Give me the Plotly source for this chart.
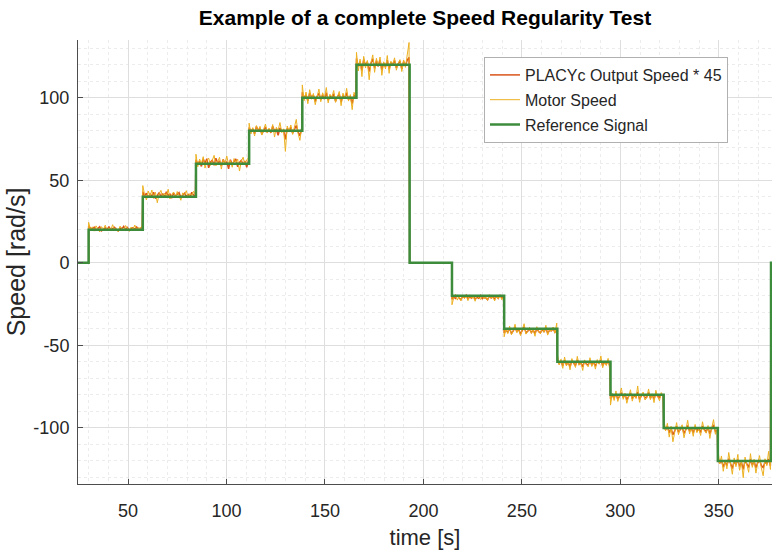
import numpy as np
import plotly.graph_objects as go

# ---------------- data ----------------
# reference signal: segment start times and levels (last edge = end of data)
ref_edges = [24.5, 30.0, 57.5, 84.5, 111.5, 138.5, 166.0, 193.0, 214.5, 241.0,
             268.0, 295.0, 322.0, 349.5, 376.5, 378.0]
ref_levels = [0, 20, 40, 60, 80, 100, 120, 0, -20, -40, -60, -80, -100, -120, 0]

x_tickvals = [50, 100, 150, 200, 250, 300, 350]
y_tickvals = [-100, -50, 0, 50, 100]
y_ticktext = ["-100", "-50", "0", "50", "100"]

# Motor speed samples for each non-zero step
motor_p20 = [24.5, 20.1, 21.8, 19.2, 22.4, 20.6, 18.7, 21.9, 20.3, 22.8, 19.5, 21.2, 20.0, 23.1, 19.8,
             20.9, 18.9, 22.2, 21.0, 19.6, 22.6, 20.4, 19.1, 21.7, 20.2, 22.9, 19.7, 21.4, 20.8, 22.5]
motor_p40 = [46.8, 41.2, 38.1, 43.5, 40.2, 44.1, 39.0, 42.7, 36.4, 41.8, 43.9, 39.6, 42.2, 40.5, 44.6,
             38.7, 41.5, 42.9, 39.3, 43.2, 40.8, 37.9, 42.4, 41.1, 43.7, 39.8, 42.0, 40.6, 43.4, 41.3]
motor_p60 = [65.8, 58.2, 62.9, 60.1, 64.3, 57.4, 61.8, 63.5, 59.0, 62.2, 65.1, 58.7, 61.3, 63.9, 56.8,
             62.6, 60.4, 64.7, 59.5, 61.9, 57.9, 63.2, 60.7, 62.8, 55.6, 61.5, 64.0, 59.3, 62.4, 63.6]
motor_p80 = [84.6, 78.1, 81.9, 76.8, 83.2, 79.5, 82.7, 77.4, 80.8, 84.1, 78.6, 81.5, 79.0, 83.8, 76.2,
             82.1, 80.3, 85.0, 78.9, 81.2, 67.5, 82.9, 79.7, 83.5, 77.8, 81.6, 86.9, 78.4, 74.2, 82.4]
motor_p100 = [107.8, 98.2, 103.5, 96.4, 104.9, 99.1, 102.6, 95.8, 101.7, 105.3, 97.6, 103.0, 99.8, 106.2, 96.9,
              102.1, 100.4, 104.4, 97.2, 101.3, 103.8, 95.2, 102.8, 99.4, 105.7, 98.0, 101.9, 92.8, 103.3, 100.7]
motor_p120 = [127.5, 116.2, 123.4, 112.8, 125.1, 118.0, 122.6, 110.9, 121.3, 126.0, 115.4, 123.9, 119.2, 124.7, 113.6,
              121.8, 117.5, 125.6, 114.8, 122.1, 119.9, 124.2, 116.7, 120.8, 123.1, 115.9, 122.9, 118.4, 125.3, 133.5]
motor_n20 = [-25.4, -21.2, -19.1, -22.6, -20.4, -23.0, -19.8, -21.7, -20.2, -22.9, -19.4, -21.5, -20.7, -23.3, -19.9,
             -21.0, -22.2, -19.6, -21.9, -20.5, -22.7, -19.3, -21.3, -20.9, -23.1, -20.0, -21.8, -19.7, -22.4, -20.6]
motor_n40 = [-44.8, -40.2, -42.9, -38.4, -43.6, -41.1, -37.2, -42.4, -39.8, -44.1, -40.9, -36.9, -43.2, -41.6, -39.1,
             -42.7, -40.4, -44.5, -38.7, -41.9, -43.0, -39.5, -42.1, -37.8, -43.8, -40.6, -41.4, -38.9, -42.6, -36.5]
motor_n60 = [-55.2, -61.8, -58.4, -63.9, -57.1, -62.5, -59.6, -64.8, -58.0, -61.2, -63.4, -56.7, -62.0, -60.3, -65.2,
             -58.8, -61.6, -63.0, -57.5, -62.8, -59.9, -64.4, -58.6, -61.4, -56.4, -63.6, -60.1, -62.2, -57.9, -65.5]
motor_n80 = [-86.2, -79.1, -83.4, -77.6, -84.0, -80.5, -75.8, -82.7, -78.9, -85.1, -81.3, -76.9, -83.8, -79.7, -82.1,
             -74.6, -84.5, -80.0, -78.3, -83.1, -81.8, -76.4, -82.9, -79.4, -84.7, -77.2, -81.0, -83.6, -78.6, -80.8]
motor_n100 = [-93.5, -101.8, -97.2, -105.6, -99.0, -108.4, -102.5, -96.8, -104.1, -100.2, -98.1, -106.0, -101.1, -95.4, -103.7,
              -99.6, -105.1, -97.9, -102.9, -100.7, -104.6, -96.3, -101.5, -103.2, -98.6, -106.4, -100.0, -95.0, -103.9, -101.3]
motor_n120 = [-112.5, -121.8, -117.0, -126.3, -119.4, -124.8, -114.9, -122.6, -128.1, -118.2, -123.5, -116.1, -125.7, -120.3, -130.2,
              -117.7, -122.0, -126.9, -115.6, -123.9, -119.0, -127.4, -121.2, -116.8, -124.4, -129.0, -118.7, -122.9, -114.2, -125.2]

# PLACYc output speed * 45 samples for each non-zero step
placyc_p20 = [22.3, 21.0, 20.4, 21.6, 19.8, 20.9, 21.8, 19.4, 20.6, 21.3, 20.1, 22.0, 19.9, 20.7, 21.5,
              20.2, 19.3, 21.1, 20.5, 22.1, 20.0, 21.4, 19.7, 20.8, 21.2, 20.3, 21.7, 19.9, 20.6, 21.9]
placyc_p40 = [43.1, 40.6, 42.2, 39.4, 41.7, 40.3, 42.8, 38.9, 41.2, 42.5, 40.1, 41.9, 39.7, 43.0, 40.8,
              41.6, 39.2, 42.3, 40.4, 41.8, 42.6, 39.6, 40.9, 42.1, 40.2, 41.4, 39.5, 42.7, 41.0, 40.5]
placyc_p60 = [62.4, 59.8, 61.6, 58.4, 62.9, 60.5, 63.1, 57.6, 61.0, 62.2, 59.1, 63.4, 60.3, 61.8, 58.9,
              62.7, 60.0, 61.3, 56.9, 62.5, 59.6, 61.1, 63.0, 58.2, 60.8, 62.0, 59.4, 61.7, 57.8, 62.3]
placyc_p80 = [82.0, 79.4, 81.3, 78.2, 82.6, 80.1, 81.7, 77.9, 80.6, 82.3, 79.0, 81.1, 78.7, 82.8, 79.8,
              80.9, 77.3, 81.8, 79.6, 80.4, 74.8, 81.5, 80.0, 82.1, 78.5, 81.0, 83.2, 79.2, 77.0, 81.4]
placyc_p100 = [103.4, 99.6, 102.0, 98.1, 102.9, 100.3, 101.5, 97.7, 100.9, 102.7, 98.8, 101.8, 99.2, 103.1, 98.5,
               101.2, 100.0, 102.4, 97.9, 100.6, 102.2, 97.4, 101.6, 99.5, 103.0, 98.9, 100.8, 96.5, 101.9, 100.2]
placyc_p120 = [123.8, 118.9, 122.0, 116.5, 123.2, 119.6, 121.7, 115.8, 120.9, 123.6, 117.9, 122.4, 119.0, 123.0, 116.9,
               121.2, 118.6, 122.8, 117.4, 121.5, 120.2, 122.6, 118.1, 120.6, 122.2, 117.6, 121.9, 119.3, 122.9, 124.5]
placyc_n20 = [-22.0, -20.8, -21.6, -19.9, -21.2, -22.3, -20.4, -21.0, -19.6, -21.9, -20.6, -21.4, -20.1, -22.1, -20.9,
              -21.5, -19.8, -21.7, -20.3, -21.1, -22.4, -20.0, -21.3, -20.7, -21.8, -20.2, -21.6, -19.5, -21.2, -20.8]
placyc_n40 = [-42.5, -40.8, -42.0, -39.6, -42.9, -41.3, -39.1, -41.8, -40.3, -43.1, -41.0, -38.8, -42.3, -41.5, -40.0,
              -42.2, -40.7, -43.0, -39.8, -41.6, -42.4, -40.2, -41.9, -39.4, -42.8, -40.9, -41.2, -39.9, -42.1, -40.5]
placyc_n60 = [-58.6, -61.0, -59.7, -62.4, -59.0, -61.7, -60.4, -63.0, -59.3, -61.1, -62.2, -58.8, -61.5, -60.6, -62.9,
              -59.5, -61.3, -62.0, -59.1, -61.9, -60.2, -62.6, -59.8, -60.9, -58.9, -62.3, -60.0, -61.4, -59.4, -62.7]
placyc_n80 = [-82.4, -80.2, -81.9, -79.0, -82.6, -80.8, -78.7, -81.6, -79.8, -82.9, -81.1, -78.9, -82.2, -80.4, -81.5,
              -78.2, -82.7, -80.6, -79.5, -81.8, -81.2, -78.6, -82.0, -80.0, -82.5, -79.2, -80.9, -81.7, -79.6, -80.7]
placyc_n100 = [-97.8, -101.2, -99.1, -103.0, -100.3, -104.2, -101.7, -99.0, -102.6, -100.6, -99.5, -103.4, -100.9, -98.6, -102.1,
               -100.2, -103.1, -99.3, -101.8, -100.5, -102.8, -98.9, -101.0, -102.4, -99.7, -103.6, -100.4, -98.2, -102.3, -101.4]
placyc_n120 = [-118.0, -121.5, -119.6, -123.8, -120.4, -122.9, -118.6, -121.9, -124.6, -120.0, -122.4, -119.1, -123.3, -120.8, -125.1,
               -119.8, -121.6, -123.9, -118.9, -122.6, -120.2, -124.2, -121.1, -119.5, -122.8, -124.0, -120.6, -121.8, -118.8, -123.0]

motor_steps = [motor_p20, motor_p40, motor_p60, motor_p80, motor_p100, motor_p120,
               motor_n20, motor_n40, motor_n60, motor_n80, motor_n100, motor_n120]
placyc_steps = [placyc_p20, placyc_p40, placyc_p60, placyc_p80, placyc_p100, placyc_p120,
                placyc_n20, placyc_n40, placyc_n60, placyc_n80, placyc_n100, placyc_n120]

t_end = 377.0


def build(steps):
    xs, ys = [], []
    k = 0
    for i, lvl in enumerate(ref_levels):
        t0, t1 = ref_edges[i], min(ref_edges[i + 1], t_end)
        if lvl == 0:
            xs += [t0, t1]
            ys += [0, 0]
        else:
            vals = steps[k]
            k += 1
            xs += list(np.linspace(t0, t1 - 0.3, len(vals)))
            ys += vals
    return xs, ys


mx, my = build(motor_steps)
px_, py_ = build(placyc_steps)

FONT = "Liberation Sans, Arial, sans-serif"
TXT = "#262626"

fig = go.Figure()
fig.add_trace(go.Scatter(x=px_, y=py_, mode="lines", name="PLACYc Output Speed * 45",
                         legendgroup="a", line=dict(color="#D95319", width=1.5)))
fig.add_trace(go.Scatter(x=mx, y=my, mode="lines", name="Motor Speed",
                         legendgroup="b", line=dict(color="#EDB120", width=1)))
fig.add_trace(go.Scatter(x=ref_edges, y=ref_levels + [0], mode="lines", name="Reference Signal",
                         legendgroup="c", line=dict(color="#3C8C3C", width=2.5, shape="hv")))

fig.update_layout(
    width=772, height=556,
    margin=dict(l=78, r=0, t=40, b=72),
    paper_bgcolor="white", plot_bgcolor="white",
    font=dict(family=FONT, color=TXT),
    title=dict(text="<b>Example of a complete Speed Regularity Test</b>",
               x=(78 + 772) / 2 / 772, xanchor="center", y=1 - 18 / 556, yanchor="middle",
               font=dict(size=21, color="black", family=FONT)),
    legend=dict(x=(484 - 78) / 694, y=(484 - 57) / 444, xanchor="left", yanchor="top",
                bgcolor="white", bordercolor="#b0b0b0", borderwidth=1,
                font=dict(size=16, color=TXT, family=FONT), itemwidth=30,
                tracegroupgap=1),
    showlegend=True,
)
fig.update_xaxes(range=[24.6, t_end], tickvals=x_tickvals, automargin=False,
                 showline=True, linecolor="#4d4d4d", linewidth=1,
                 ticks="inside", ticklen=5, tickcolor="#4d4d4d",
                 tickfont=dict(size=18, color=TXT), ticklabelstandoff=10,
                 showgrid=True, gridcolor="#dedede", gridwidth=1, zeroline=False,
                 minor=dict(dtick=10, tick0=0, showgrid=True, gridcolor="#ececec", griddash="dot", ticks=""),
                 title=dict(text="time [s]", font=dict(size=22, color=TXT), standoff=10))
fig.update_yaxes(range=[-134, 135], tickvals=y_tickvals, ticktext=y_ticktext, automargin=False,
                 showline=True, linecolor="#4d4d4d", linewidth=1,
                 ticks="inside", ticklen=5, tickcolor="#4d4d4d",
                 tickfont=dict(size=18, color=TXT), ticklabelstandoff=4,
                 showgrid=True, gridcolor="#dedede", gridwidth=1, zeroline=False,
                 minor=dict(dtick=10, tick0=0, showgrid=True, gridcolor="#ececec", griddash="dot", ticks=""),
                 title=dict(text="Speed [rad/s]", font=dict(size=25, color=TXT), standoff=0))

fig.write_html("out.html")
